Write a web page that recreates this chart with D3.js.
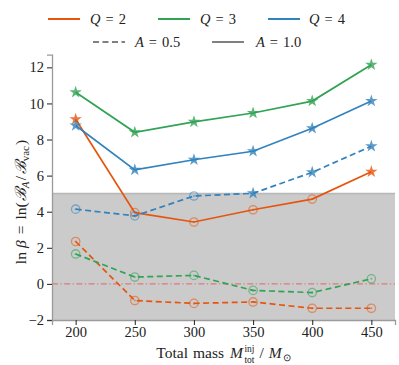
<!DOCTYPE html>
<html><head><meta charset="utf-8">
<script src="https://cdn.jsdelivr.net/npm/d3@7"></script>
<style>body{margin:0;background:#fff}svg{display:block}</style>
</head><body><svg id="c" width="399" height="365" font-family="Liberation Serif"></svg>
<script>
const FONT = "Liberation Serif";
const FS = 14.5;
const LFS = 15.5;
const masses = [200, 250, 300, 350, 400, 450];
const q2_a10 = [9.12, 3.95, 3.43, 4.11, 4.70, 6.22];
const q2_a05 = [2.35, -0.92, -1.08, -1.0, -1.35, -1.35];
const q3_a10 = [10.62, 8.40, 8.98, 9.47, 10.13, 12.14];
const q3_a05 = [1.66, 0.38, 0.47, -0.36, -0.48, 0.28];
const q4_a10 = [8.78, 6.32, 6.88, 7.35, 8.62, 10.13];
const q4_a05 = [4.14, 3.77, 4.87, 5.02, 6.18, 7.63];
const yTicks = [-2, 0, 2, 4, 6, 8, 10, 12];
const colors = {2: "#e6550d", 3: "#31a354", 4: "#3182bd"};
const series = [
  {q: 2, a: 1.0, v: q2_a10}, {q: 2, a: 0.5, v: q2_a05},
  {q: 3, a: 1.0, v: q3_a10}, {q: 3, a: 0.5, v: q3_a05},
  {q: 4, a: 1.0, v: q4_a10}, {q: 4, a: 0.5, v: q4_a05}
];
const threshold = 5;

const svg = d3.select("#c");
const L = 52, R = 395, T = 54.7, B = 320;
const x = d3.scaleLinear().domain([180, 470]).range([L, R]);
const y = d3.scaleLinear().domain([-2, 12.7]).range([B, T]);

svg.append("rect").attr("x", L).attr("width", R - L)
  .attr("y", y(threshold)).attr("height", y(-2) - y(threshold)).attr("fill", "#cbcbcb");
svg.append("line").attr("x1", L).attr("x2", R).attr("y1", y(threshold)).attr("y2", y(threshold))
  .attr("stroke", "#b9b9b9").attr("stroke-width", 1.6);
svg.append("line").attr("x1", L).attr("x2", R).attr("y1", y(0)).attr("y2", y(0))
  .attr("stroke", "#e07a7a").attr("stroke-width", 1.1).attr("stroke-dasharray", "6,2.5,1.2,2.5");

const yAx = svg.append("g").attr("transform", `translate(${L},0)`)
  .call(d3.axisLeft(y).tickValues(yTicks).tickSize(5).tickPadding(3).tickFormat(d => d < 0 ? "\u2212" + (-d) : d));
const xAx = svg.append("g").attr("transform", `translate(0,${B})`)
  .call(d3.axisBottom(x).tickValues(masses).tickSize(5).tickPadding(1.5));
[yAx, xAx].forEach(g => {
  g.attr("font-family", FONT).attr("font-size", FS);
  g.select(".domain").attr("stroke", "#9a9a9a").attr("stroke-width", 1.3);
  g.selectAll(".tick line").attr("stroke", "#333").attr("stroke-width", 1.1);
  g.selectAll(".tick text").attr("fill", "#222");
});

const line = d3.line().x((d, i) => x(masses[i])).y(d => y(d));
const star = d3.symbol().type(d3.symbolStar).size(48);
series.forEach(s => {
  const c = colors[s.q];
  svg.append("path").datum(s.v).attr("d", line).attr("fill", "none")
    .attr("stroke", c).attr("stroke-width", 1.7)
    .attr("stroke-dasharray", s.a === 0.5 ? "6,3.5" : null);
  s.v.forEach((v, i) => {
    const cx = x(masses[i]), cy = y(v);
    if (v > threshold) {
      svg.append("path").attr("d", star).attr("transform", `translate(${cx},${cy})`)
        .attr("fill", c).attr("fill-opacity", 0.8);
    } else {
      svg.append("circle").attr("cx", cx).attr("cy", cy).attr("r", 4.2)
        .attr("fill", "none").attr("stroke", c).attr("stroke-opacity", 0.55).attr("stroke-width", 1.3);
      svg.append("circle").attr("cx", cx).attr("cy", cy).attr("r", 1)
        .attr("fill", c).attr("fill-opacity", 0.6);
    }
  });
});

function txt(g, xx, yy, s, opts = {}) {
  return g.append("text").attr("x", xx).attr("y", yy).attr("font-family", FONT)
    .attr("font-size", opts.fs || FS).attr("font-style", opts.it ? "italic" : null)
    .attr("fill", "#222").text(s);
}
function pieces(g, parts, x0, y0, base) {
  let cx = x0;
  parts.forEach(p => {
    cx += p.gap || 0;
    const t = txt(g, cx, y0 + (p.dy || 0), p.t, Object.assign({fs: base}, p));
    const w = t.node().getComputedTextLength();
    if (p.adv !== 0) cx += w;
  });
  return cx - x0;
}
const lg = svg.append("g");
[{q: 2, x0: 48, tx: 90}, {q: 3, x0: 158, tx: 200}, {q: 4, x0: 268, tx: 309}].forEach(d => {
  lg.append("line").attr("x1", d.x0).attr("x2", d.x0 + 32).attr("y1", 19).attr("y2", 19)
    .attr("stroke", colors[d.q]).attr("stroke-width", 2);
  pieces(lg, [{t: "Q", it: true}, {t: "=", gap: 5}, {t: String(d.q), gap: 5}], d.tx, 24, FS);
});
[{a: "0.5", x0: 93, tx: 135, dash: "6,3.5"}, {a: "1.0", x0: 212, tx: 256, dash: null}].forEach(d => {
  lg.append("line").attr("x1", d.x0).attr("x2", d.x0 + 32).attr("y1", 42).attr("y2", 42)
    .attr("stroke", "#808080").attr("stroke-width", 2).attr("stroke-dasharray", d.dash);
  pieces(lg, [{t: "A", it: true}, {t: "=", gap: 5}, {t: d.a, gap: 5}], d.tx, 47, FS);
});

const xg = svg.append("g");
const w = pieces(xg, [
  {t: "Total"}, {t: "mass", gap: 5}, {t: "M", it: true, gap: 6},
  {t: "inj", fs: 9.5, dy: -6.5, adv: 0, gap: 1.5}, {t: "tot", fs: 9.5, dy: 5},
  {t: "/", gap: 5}, {t: "M", it: true, gap: 5}, {t: "\u2299", fs: 10, dy: 3, gap: 1}
], 0, 358, LFS);
xg.attr("transform", `translate(${(L + R) / 2 - w / 2},0)`);

const yg = svg.append("g");
const wy = pieces(yg, [
  {t: "ln"}, {t: "\u03B2", it: true, gap: 4}, {t: "=", gap: 6}, {t: "ln(", gap: 6},
  {t: "\u212C", it: true, gap: 1}, {t: "A", fs: 11, it: true, dy: 3}, {t: "/", gap: 1.5},
  {t: "\u212C", it: true, gap: 1.5}, {t: "vac", fs: 11, dy: 3}, {t: ")", gap: 1}
], 0, 0, LFS);
yg.attr("transform", `translate(26,${202 + wy / 2}) rotate(-90)`);
</script></body></html>
